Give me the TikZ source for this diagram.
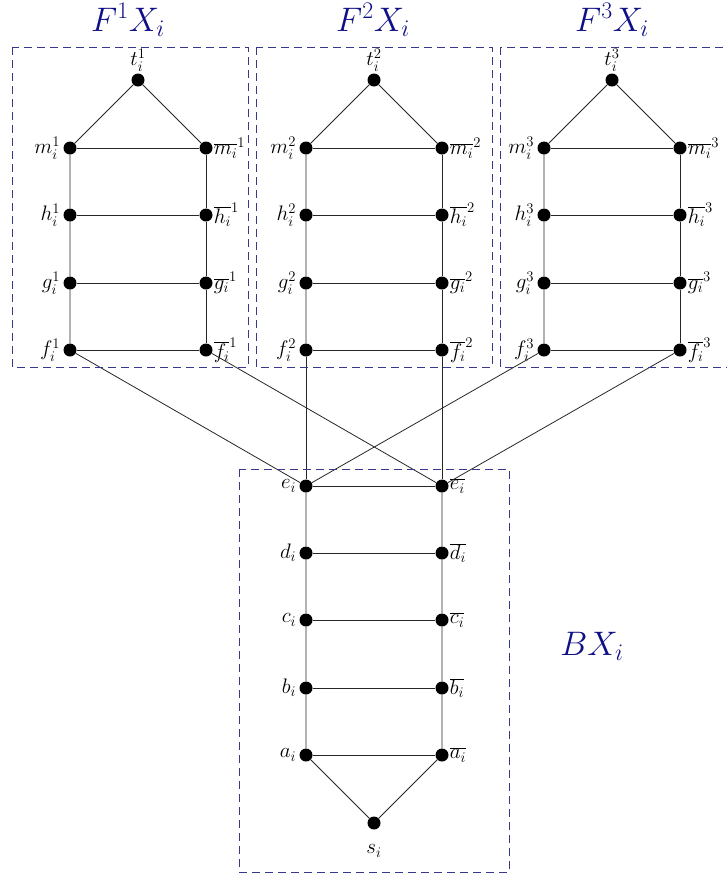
\RequirePackage{fix-cm}
\documentclass[tikz,border=0pt]{standalone}
\usetikzlibrary{positioning}
\definecolor{boxcol}{RGB}{55,55,140}
\definecolor{titlecol}{RGB}{15,15,135}
\tikzset{
  dot/.style={circle,fill=black,draw=none,inner sep=0pt,minimum size=13pt},
  lab/.style={font=\fontsize{21}{25}\selectfont,inner sep=1pt},
  edge/.style={draw=black!85,line width=0.8pt},
  gbox/.style={draw=boxcol,line width=0.8pt,dash pattern=on 8pt off 5pt},
  title/.style={text=titlecol,font=\fontsize{34}{40}\selectfont}
}
\begin{document}
\begin{tikzpicture}[x=1pt,y=-1pt]
\useasboundingbox (0,0) rectangle (727,876);
\clip (0,0) rectangle (727,876);

% the three upper gadgets F^k X_i
\foreach \k/\xx in {1/70,2/306,3/544} {
  \node[dot,label={[lab,label distance=1pt]above:$t_i^{\k}$}] (t\k) at (\xx+68,80) {};
  \foreach \p/\yy in {m/148,h/215,g/283,f/350} {
    \node[dot,label={[lab,label distance=2pt]left:$\p_i^{\k}$}] (\p\k) at (\xx,\yy) {};
    \node[dot,label={[lab,label distance=0pt]right:$\overline{\p_i}^{\k}$}] (\p b\k) at (\xx+136,\yy) {};
    \draw[edge] (\p\k) -- (\p b\k);
  }
  \draw[edge] (mb\k) -- (t\k) -- (m\k) -- (h\k) -- (g\k) -- (f\k);
  \draw[edge] (mb\k) -- (hb\k) -- (gb\k) -- (fb\k);
}

% the lower gadget B X_i
\foreach \p/\yy in {e/486,d/553,c/620,b/688,a/755} {
  \node[dot,label={[lab,label distance=2pt]left:$\p_i$}] (\p) at (306,\yy) {};
  \node[dot,label={[lab,label distance=0pt]right:$\overline{\p_i}$}] (\p b) at (442,\yy) {};
  \draw[edge] (\p) -- (\p b);
}
\node[dot,label={[lab,label distance=14pt]below:$s_i$}] (s) at (374,823) {};
\draw[edge] (e) -- (d) -- (c) -- (b) -- (a) -- (s) -- (ab) -- (bb) -- (cb) -- (db) -- (eb);

% links between the gadgets
\draw[edge] (f1) -- (e);
\draw[edge] (fb1) -- (eb);
\draw[edge] (f2) -- (e);
\draw[edge] (fb2) -- (eb);
\draw[edge] (f3) -- (e);
\draw[edge] (fb3) -- (eb);

% frames
\draw[gbox] (12,47) rectangle (248,367);
\draw[gbox] (256,47) rectangle (492,367);
\draw[gbox] (500,47) rectangle (740,367);
\draw[gbox] (239,469) rectangle (509,872);

% titles
\node[title] (T1) at (128,20) {$F^1X_i$};
\node[title] (T2) at (373,20) {$F^2X_i$};
\node[title] (T3) at (612,20) {$F^3X_i$};
\node[title] (TB) at (592,646) {$BX_i$};
\end{tikzpicture}
\end{document}
